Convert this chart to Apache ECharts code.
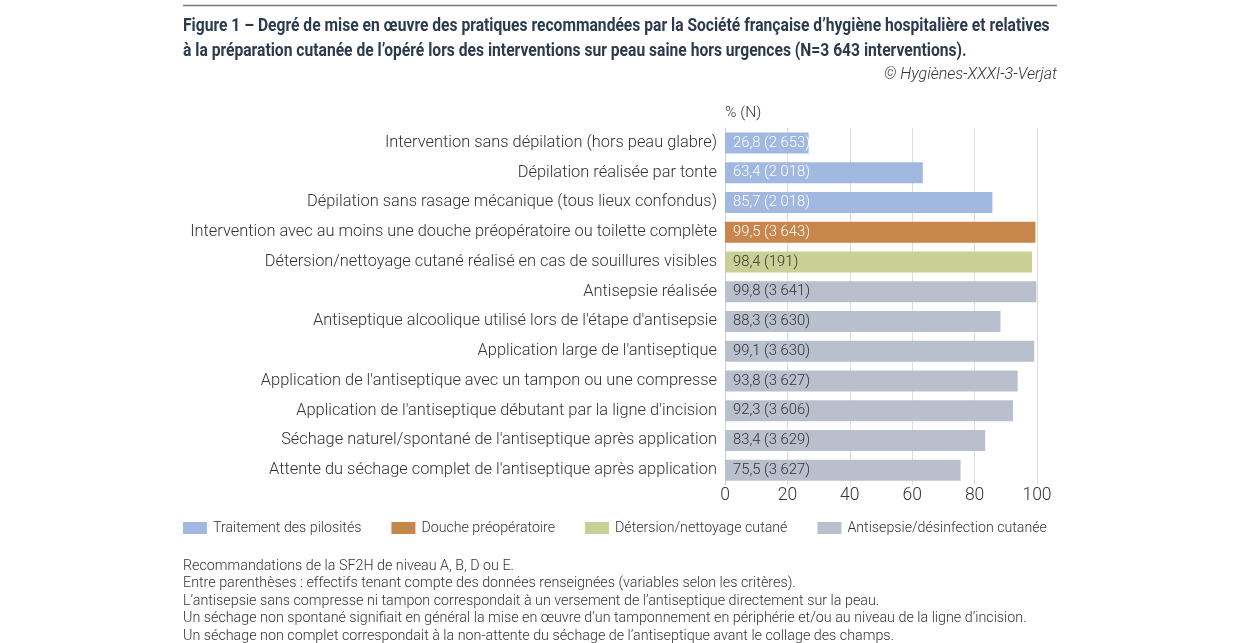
<!DOCTYPE html>
<html><head><meta charset="utf-8">
<script src="https://cdn.jsdelivr.net/npm/echarts@6/dist/echarts.min.js"></script>
<style>html,body{margin:0;padding:0;background:#fff}#c{width:1240px;height:643px}</style>
</head><body><div id="c"></div>
<script>
const categories = [
  "Intervention sans dépilation (hors peau glabre)",
  "Dépilation réalisée par tonte",
  "Dépilation sans rasage mécanique (tous lieux confondus)",
  "Intervention avec au moins une douche préopératoire ou toilette complète",
  "Détersion/nettoyage cutané réalisé en cas de souillures visibles",
  "Antisepsie réalisée",
  "Antiseptique alcoolique utilisé lors de l'étape d'antisepsie",
  "Application large de l'antiseptique",
  "Application de l'antiseptique avec un tampon ou une compresse",
  "Application de l'antiseptique débutant par la ligne d'incision",
  "Séchage naturel/spontané de l'antiseptique après application",
  "Attente du séchage complet de l'antiseptique après application"
];
const values = [26.8, 63.4, 85.7, 99.5, 98.4, 99.8, 88.3, 99.1, 93.8, 92.3, 83.4, 75.5];
const counts = ["2 653", "2 018", "2 018", "3 643", "191", "3 641", "3 630", "3 630", "3 627", "3 606", "3 629", "3 627"];
const groupOf = [0, 0, 0, 1, 2, 3, 3, 3, 3, 3, 3, 3];
const groups = ["Traitement des pilosités", "Douche préopératoire", "Détersion/nettoyage cutané", "Antisepsie/désinfection cutanée"];
const groupColors = ["#a1b8e1", "#c8864c", "#c9d095", "#b9bfcc"];
const labelColors = ["#ffffff", "#ffffff", "#333333", "#333333"];
const xTicks = [0, 20, 40, 60, 80, 100];
const titleLines = [
  "Figure 1 – Degré de mise en œuvre des pratiques recommandées par la Société française d’hygiène hospitalière et relatives",
  "à la préparation cutanée de l’opéré lors des interventions sur peau saine hors urgences (N=3 643 interventions)."
];
const credit = "© Hygiènes-XXXI-3-Verjat";
const notes = [
  "Recommandations de la SF2H de niveau A, B, D ou E.",
  "Entre parenthèses : effectifs tenant compte des données renseignées (variables selon les critères).",
  "L’antisepsie sans compresse ni tampon correspondait à un versement de l’antiseptique directement sur la peau.",
  "Un séchage non spontané signifiait en général la mise en œuvre d’un tamponnement en périphérie et/ou au niveau de la ligne d’incision.",
  "Un séchage non complet correspondait à la non-attente du séchage de l’antiseptique avant le collage des champs."
];

const FONT = "Roboto, 'Noto Sans', sans-serif";
const chart = echarts.init(document.getElementById('c'), null, {renderer: 'canvas'});

const series = groups.map((g, gi) => ({
  name: g,
  type: 'bar',
  stack: 'all',
  barWidth: 21,
  itemStyle: {color: groupColors[gi]},
  data: values.map((v, i) => groupOf[i] === gi ? v : '-'),
  label: {
    show: true,
    position: 'insideLeft',
    distance: 8,
    color: labelColors[gi],
    fontFamily: FONT,
    fontWeight: 300,
    fontSize: 14.8,
    formatter: p => String(values[p.dataIndex]).replace('.', ',') + ' (' + counts[p.dataIndex] + ')'
  }
}));

const graphics = [
  {type: 'line', shape: {x1: 183, y1: 5.5, x2: 1057, y2: 5.5}, style: {stroke: '#7a7a7a', lineWidth: 1.5}},
  {type: 'text', x: 725, y: 113, style: {text: '% (N)', font: '300 15.5px ' + FONT, fill: '#333', verticalAlign: 'middle'}}
];
titleLines.forEach((t, i) => graphics.push({
  type: 'text', x: 183, y: 26 + i * 25, scaleX: 0.85,
  style: {text: t, font: 'bold 18.4px ' + FONT, fill: '#2c3a4d', verticalAlign: 'middle'}
}));
graphics.push({type: 'text', x: 1057, y: 75, style: {text: credit, font: 'italic 300 16px ' + FONT, fill: '#333', align: 'right', verticalAlign: 'middle'}});
notes.forEach((t, i) => graphics.push({
  type: 'text', x: 183, y: 566 + i * 17.5,
  style: {text: t, font: '300 14.3px ' + FONT, fill: '#333', verticalAlign: 'middle'}
}));

chart.setOption({
  animation: false,
  grid: {left: 725, right: 1240 - 1037, top: 128, bottom: 158, containLabel: false},
  xAxis: {
    type: 'value', min: 0, max: 100, interval: 20,
    axisLine: {show: false}, axisTick: {show: false},
    splitLine: {lineStyle: {color: '#dedede', width: 1}},
    axisLabel: {color: '#333', fontFamily: FONT, fontWeight: 300, fontSize: 17.5, margin: 2,
      formatter: v => xTicks.includes(v) ? String(v) : ''}
  },
  yAxis: {
    type: 'category', data: categories, inverse: true,
    axisLine: {show: true, lineStyle: {color: '#cfcfcf'}}, axisTick: {show: false},
    axisLabel: {color: '#333', fontFamily: FONT, fontWeight: 300, fontSize: 16.4, margin: 8}
  },
  legend: {
    left: 183, top: 521, padding: 0, itemWidth: 24, itemHeight: 12, itemGap: 30,
    icon: 'rect',
    textStyle: {color: '#333', fontFamily: FONT, fontWeight: 300, fontSize: 14.2, padding: [0, 0, 0, 1]},
    data: groups
  },
  graphic: graphics,
  series: series
});
</script></body></html>
